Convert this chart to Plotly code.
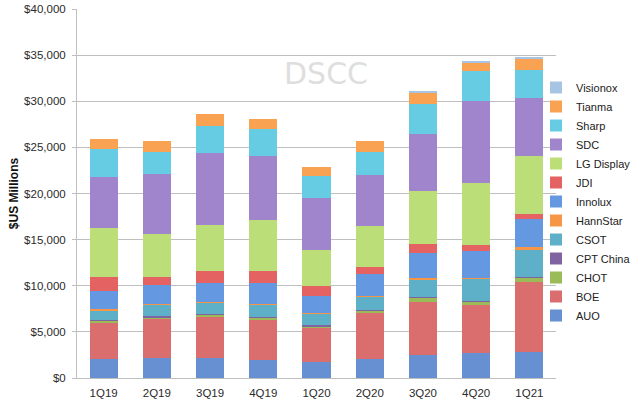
import plotly.graph_objects as go

quarters = ["1Q19", "2Q19", "3Q19", "4Q19", "1Q20", "2Q20", "3Q20", "4Q20", "1Q21"]

AUO       = [2100, 2210, 2210, 1960, 1740, 2100, 2460, 2750, 2810]
BOE       = [3950, 4240, 4460, 4420, 3730, 5000, 5830, 5110, 7650]
CHOT      = [150, 150, 180, 170, 160, 180, 420, 480, 450]
CPT_China = [80, 80, 80, 80, 70, 60, 60, 60, 80]
CSOT      = [1050, 1250, 1230, 1310, 1300, 1470, 1880, 2360, 2970]
HannStar  = [120, 110, 100, 100, 100, 100, 150, 120, 210]
Innolux   = [1950, 2070, 2030, 2250, 1740, 2360, 2750, 2850, 3040]
JDI       = [1580, 790, 1340, 1270, 1090, 720, 1010, 730, 580]
LG_Display= [5250, 4680, 4960, 5610, 3980, 4460, 5690, 6730, 6280]
SDC       = [5510, 6560, 7830, 6920, 5620, 5540, 6200, 8890, 6240]
Sharp     = [3040, 2390, 2900, 2940, 2350, 2500, 3300, 3150, 3060]
Tianma    = [1090, 1190, 1340, 1080, 980, 1160, 1200, 1010, 1270]
Visionox  = [0, 0, 0, 0, 0, 0, 100, 100, 100]

series = [
    ("AUO", AUO, "#6690D2"),
    ("BOE", BOE, "#DA6E6E"),
    ("CHOT", CHOT, "#9BBB59"),
    ("CPT China", CPT_China, "#8064A2"),
    ("CSOT", CSOT, "#5EB0C8"),
    ("HannStar", HannStar, "#F79646"),
    ("Innolux", Innolux, "#6498E0"),
    ("JDI", JDI, "#E46262"),
    ("LG Display", LG_Display, "#BCDE78"),
    ("SDC", SDC, "#A084CC"),
    ("Sharp", Sharp, "#66CCE4"),
    ("Tianma", Tianma, "#F8A252"),
    ("Visionox", Visionox, "#A8C4E4"),
]

fig = go.Figure()
for name, vals, color in series:
    fig.add_trace(go.Bar(
        x=quarters, y=vals, name=name,
        marker=dict(color=color, line=dict(width=0)),
    ))

fig.update_layout(
    barmode="stack",
    bargap=0.47,
    width=640, height=403,
    margin=dict(l=77, r=84, t=9, b=25, autoexpand=False),
    paper_bgcolor="white",
    plot_bgcolor="white",
    font=dict(family="Liberation Sans, Arial, sans-serif", size=12, color="#222"),
    legend=dict(
        traceorder="reversed",
        xref="container", yref="container",
        x=0.8375, xanchor="left", y=0.5, yanchor="middle",
        font=dict(size=11, color="#222"),
        itemwidth=30,
        tracegroupgap=0,
        maxheight=390,
        bgcolor="rgba(0,0,0,0)",
    ),
    yaxis=dict(
        range=[0, 40000], automargin=False,
        tickvals=[0, 5000, 10000, 15000, 20000, 25000, 30000, 35000, 40000],
        ticktext=["$0", "$5,000", "$10,000", "$15,000", "$20,000", "$25,000", "$30,000", "$35,000", "$40,000"],
        showgrid=True, gridcolor="#BFBFBF", gridwidth=1,
        showline=True, linecolor="#BFBFBF", linewidth=1,
        ticks="outside", ticklen=4, tickcolor="#BFBFBF",
        zeroline=False,
        ticklabeloverflow="allow",
        ticklabelstandoff=4,
        title=dict(text="<b>$US Millions</b>", font=dict(size=12, color="#111"), standoff=2),
        tickfont=dict(size=11.5, color="#2a2a2a"),
    ),
    xaxis=dict(
        automargin=False,
        showline=True, linecolor="#BFBFBF", linewidth=1,
        ticks="", ticklabelstandoff=4,
        tickfont=dict(size=11.5, color="#2a2a2a"),
    ),
    annotations=[dict(
        text="DSCC", x=0.52, y=0.878, xref="paper", yref="paper",
        showarrow=False, font=dict(size=30, color="#DEDEDE", family="DejaVu Sans, sans-serif"),
    )],
)

fig.write_html("out.html", config={"displayModeBar": False},
               post_script="document.body.style.margin='0px';")
